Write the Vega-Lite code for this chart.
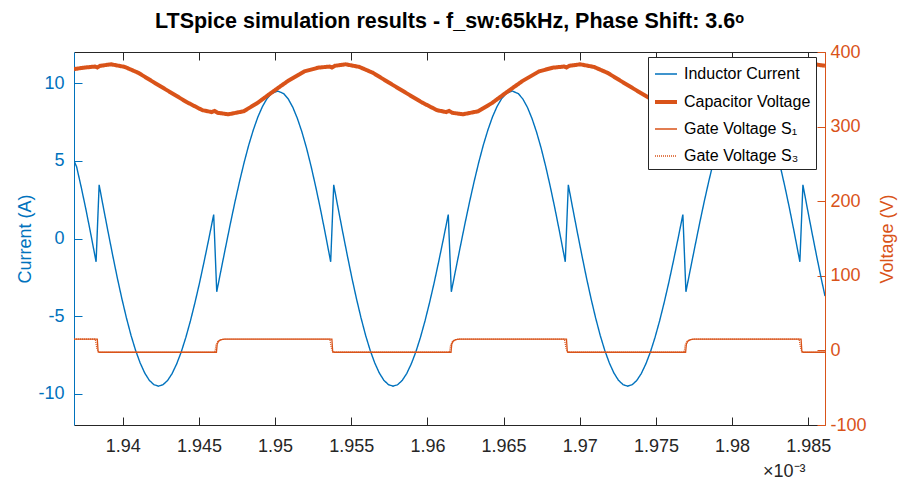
{
  "$schema": "https://vega.github.io/schema/vega-lite/v6.json",
  "width": 751,
  "height": 373,
  "autosize": {"type": "none"},
  "padding": {"left": 74, "top": 52, "right": 75, "bottom": 62},
  "background": "white",
  "config": {"view": {"stroke": null}, "font": "Liberation Sans"},
  "title": {"text": "LTSpice simulation results - f_sw:65kHz, Phase Shift: 3.6ᵒ", "font": "Liberation Sans", "fontSize": 21.5, "fontWeight": "bold", "color": "#000000", "anchor": "middle", "offset": 11},
  "datasets": {
    "current": [
      {"t":1.93680,"v":5.0,"s":"Inductor Current"},{"t":1.93697,"v":4.62,"s":"Inductor Current"},{"t":1.93727,"v":3.32,"s":"Inductor Current"},{"t":1.93757,"v":1.93,"s":"Inductor Current"},{"t":1.93787,"v":0.45,"s":"Inductor Current"},{"t":1.93825,"v":-1.5,"s":"Inductor Current"},{"t":1.93845,"v":3.45,"s":"Inductor Current"},{"t":1.93874,"v":1.94,"s":"Inductor Current"},{"t":1.93904,"v":0.41,"s":"Inductor Current"},{"t":1.93934,"v":-1.08,"s":"Inductor Current"},{"t":1.93964,"v":-2.52,"s":"Inductor Current"},{"t":1.93994,"v":-3.86,"s":"Inductor Current"},{"t":1.94024,"v":-5.1,"s":"Inductor Current"},{"t":1.94054,"v":-6.22,"s":"Inductor Current"},{"t":1.94084,"v":-7.19,"s":"Inductor Current"},{"t":1.94114,"v":-8.0,"s":"Inductor Current"},{"t":1.94144,"v":-8.65,"s":"Inductor Current"},{"t":1.94174,"v":-9.12,"s":"Inductor Current"},{"t":1.94204,"v":-9.4,"s":"Inductor Current"},
      {"t":1.94234,"v":-9.5,"s":"Inductor Current"},{"t":1.94264,"v":-9.41,"s":"Inductor Current"},{"t":1.94294,"v":-9.14,"s":"Inductor Current"},{"t":1.94324,"v":-8.69,"s":"Inductor Current"},{"t":1.94354,"v":-8.07,"s":"Inductor Current"},{"t":1.94384,"v":-7.3,"s":"Inductor Current"},{"t":1.94414,"v":-6.37,"s":"Inductor Current"},{"t":1.94444,"v":-5.31,"s":"Inductor Current"},{"t":1.94474,"v":-4.13,"s":"Inductor Current"},{"t":1.94504,"v":-2.86,"s":"Inductor Current"},{"t":1.94534,"v":-1.49,"s":"Inductor Current"},{"t":1.94564,"v":-0.07,"s":"Inductor Current"},{"t":1.94597,"v":1.54,"s":"Inductor Current"},{"t":1.94617,"v":-3.43,"s":"Inductor Current"},{"t":1.94647,"v":-1.94,"s":"Inductor Current"},{"t":1.94677,"v":-0.47,"s":"Inductor Current"},{"t":1.94707,"v":0.98,"s":"Inductor Current"},{"t":1.94737,"v":2.37,"s":"Inductor Current"},{"t":1.94767,"v":3.68,"s":"Inductor Current"},{"t":1.94797,"v":4.9,"s":"Inductor Current"},{"t":1.94827,"v":6.01,"s":"Inductor Current"},{"t":1.94857,"v":6.98,"s":"Inductor Current"},{"t":1.94887,"v":7.82,"s":"Inductor Current"},{"t":1.94917,"v":8.49,"s":"Inductor Current"},{"t":1.94947,"v":9.0,"s":"Inductor Current"},{"t":1.94977,"v":9.33,"s":"Inductor Current"},{"t":1.95017,"v":9.49,"s":"Inductor Current"},{"t":1.95057,"v":9.32,"s":"Inductor Current"},{"t":1.95087,"v":8.97,"s":"Inductor Current"},{"t":1.95117,"v":8.43,"s":"Inductor Current"},{"t":1.95147,"v":7.71,"s":"Inductor Current"},{"t":1.95177,"v":6.83,"s":"Inductor Current"},{"t":1.95207,"v":5.8,"s":"Inductor Current"},{"t":1.95237,"v":4.62,"s":"Inductor Current"},{"t":1.95267,"v":3.32,"s":"Inductor Current"},{"t":1.95297,"v":1.93,"s":"Inductor Current"},{"t":1.95327,"v":0.45,"s":"Inductor Current"},{"t":1.95365,"v":-1.5,"s":"Inductor Current"},{"t":1.95385,"v":3.45,"s":"Inductor Current"},{"t":1.95414,"v":1.94,"s":"Inductor Current"},{"t":1.95444,"v":0.41,"s":"Inductor Current"},{"t":1.95474,"v":-1.08,"s":"Inductor Current"},{"t":1.95504,"v":-2.52,"s":"Inductor Current"},{"t":1.95534,"v":-3.86,"s":"Inductor Current"},{"t":1.95564,"v":-5.1,"s":"Inductor Current"},{"t":1.95594,"v":-6.22,"s":"Inductor Current"},{"t":1.95624,"v":-7.19,"s":"Inductor Current"},{"t":1.95654,"v":-8.0,"s":"Inductor Current"},{"t":1.95684,"v":-8.65,"s":"Inductor Current"},{"t":1.95714,"v":-9.12,"s":"Inductor Current"},{"t":1.95744,"v":-9.4,"s":"Inductor Current"},
      {"t":1.95774,"v":-9.5,"s":"Inductor Current"},{"t":1.95804,"v":-9.41,"s":"Inductor Current"},{"t":1.95834,"v":-9.14,"s":"Inductor Current"},{"t":1.95864,"v":-8.69,"s":"Inductor Current"},{"t":1.95894,"v":-8.07,"s":"Inductor Current"},{"t":1.95924,"v":-7.3,"s":"Inductor Current"},{"t":1.95954,"v":-6.37,"s":"Inductor Current"},{"t":1.95984,"v":-5.31,"s":"Inductor Current"},{"t":1.96014,"v":-4.13,"s":"Inductor Current"},{"t":1.96044,"v":-2.86,"s":"Inductor Current"},{"t":1.96074,"v":-1.49,"s":"Inductor Current"},{"t":1.96104,"v":-0.07,"s":"Inductor Current"},{"t":1.96137,"v":1.54,"s":"Inductor Current"},{"t":1.96157,"v":-3.43,"s":"Inductor Current"},{"t":1.96187,"v":-1.94,"s":"Inductor Current"},{"t":1.96217,"v":-0.47,"s":"Inductor Current"},{"t":1.96247,"v":0.98,"s":"Inductor Current"},{"t":1.96277,"v":2.37,"s":"Inductor Current"},{"t":1.96307,"v":3.68,"s":"Inductor Current"},{"t":1.96337,"v":4.9,"s":"Inductor Current"},{"t":1.96367,"v":6.01,"s":"Inductor Current"},{"t":1.96397,"v":6.98,"s":"Inductor Current"},{"t":1.96427,"v":7.82,"s":"Inductor Current"},{"t":1.96457,"v":8.49,"s":"Inductor Current"},{"t":1.96487,"v":9.0,"s":"Inductor Current"},{"t":1.96517,"v":9.33,"s":"Inductor Current"},{"t":1.96557,"v":9.49,"s":"Inductor Current"},{"t":1.96597,"v":9.32,"s":"Inductor Current"},{"t":1.96627,"v":8.97,"s":"Inductor Current"},{"t":1.96657,"v":8.43,"s":"Inductor Current"},{"t":1.96687,"v":7.71,"s":"Inductor Current"},{"t":1.96717,"v":6.83,"s":"Inductor Current"},{"t":1.96747,"v":5.8,"s":"Inductor Current"},{"t":1.96777,"v":4.62,"s":"Inductor Current"},{"t":1.96807,"v":3.32,"s":"Inductor Current"},{"t":1.96837,"v":1.93,"s":"Inductor Current"},{"t":1.96867,"v":0.45,"s":"Inductor Current"},{"t":1.96905,"v":-1.5,"s":"Inductor Current"},{"t":1.96925,"v":3.45,"s":"Inductor Current"},{"t":1.96954,"v":1.94,"s":"Inductor Current"},{"t":1.96984,"v":0.41,"s":"Inductor Current"},{"t":1.97014,"v":-1.08,"s":"Inductor Current"},{"t":1.97044,"v":-2.52,"s":"Inductor Current"},{"t":1.97074,"v":-3.86,"s":"Inductor Current"},{"t":1.97104,"v":-5.1,"s":"Inductor Current"},{"t":1.97134,"v":-6.22,"s":"Inductor Current"},{"t":1.97164,"v":-7.19,"s":"Inductor Current"},{"t":1.97194,"v":-8.0,"s":"Inductor Current"},{"t":1.97224,"v":-8.65,"s":"Inductor Current"},{"t":1.97254,"v":-9.12,"s":"Inductor Current"},{"t":1.97284,"v":-9.4,"s":"Inductor Current"},
      {"t":1.97314,"v":-9.5,"s":"Inductor Current"},{"t":1.97344,"v":-9.41,"s":"Inductor Current"},{"t":1.97374,"v":-9.14,"s":"Inductor Current"},{"t":1.97404,"v":-8.69,"s":"Inductor Current"},{"t":1.97434,"v":-8.07,"s":"Inductor Current"},{"t":1.97464,"v":-7.3,"s":"Inductor Current"},{"t":1.97494,"v":-6.37,"s":"Inductor Current"},{"t":1.97524,"v":-5.31,"s":"Inductor Current"},{"t":1.97554,"v":-4.13,"s":"Inductor Current"},{"t":1.97584,"v":-2.86,"s":"Inductor Current"},{"t":1.97614,"v":-1.49,"s":"Inductor Current"},{"t":1.97644,"v":-0.07,"s":"Inductor Current"},{"t":1.97677,"v":1.54,"s":"Inductor Current"},{"t":1.97697,"v":-3.43,"s":"Inductor Current"},{"t":1.97727,"v":-1.94,"s":"Inductor Current"},{"t":1.97757,"v":-0.47,"s":"Inductor Current"},{"t":1.97787,"v":0.98,"s":"Inductor Current"},{"t":1.97817,"v":2.37,"s":"Inductor Current"},{"t":1.97847,"v":3.68,"s":"Inductor Current"},{"t":1.97877,"v":4.9,"s":"Inductor Current"},{"t":1.97907,"v":6.01,"s":"Inductor Current"},{"t":1.97937,"v":6.98,"s":"Inductor Current"},{"t":1.97967,"v":7.82,"s":"Inductor Current"},{"t":1.97997,"v":8.49,"s":"Inductor Current"},{"t":1.98027,"v":9.0,"s":"Inductor Current"},{"t":1.98057,"v":9.33,"s":"Inductor Current"},{"t":1.98097,"v":9.49,"s":"Inductor Current"},{"t":1.98137,"v":9.32,"s":"Inductor Current"},{"t":1.98167,"v":8.97,"s":"Inductor Current"},{"t":1.98197,"v":8.43,"s":"Inductor Current"},{"t":1.98227,"v":7.71,"s":"Inductor Current"},{"t":1.98257,"v":6.83,"s":"Inductor Current"},{"t":1.98287,"v":5.8,"s":"Inductor Current"},{"t":1.98317,"v":4.62,"s":"Inductor Current"},{"t":1.98347,"v":3.32,"s":"Inductor Current"},{"t":1.98377,"v":1.93,"s":"Inductor Current"},{"t":1.98407,"v":0.45,"s":"Inductor Current"},{"t":1.98445,"v":-1.5,"s":"Inductor Current"},{"t":1.98465,"v":3.45,"s":"Inductor Current"},{"t":1.98494,"v":1.94,"s":"Inductor Current"},{"t":1.98524,"v":0.41,"s":"Inductor Current"},{"t":1.98554,"v":-1.08,"s":"Inductor Current"},{"t":1.98584,"v":-2.52,"s":"Inductor Current"},{"t":1.9861,"v":-3.7,"s":"Inductor Current"}
    ],
    "cap": [
      {"t":1.9368,"v":377,"s":"Capacitor Voltage"},{"t":1.93743,"v":379,"s":"Capacitor Voltage"},{"t":1.93818,"v":380.5,"s":"Capacitor Voltage"},{"t":1.93833,"v":379.3,"s":"Capacitor Voltage"},{"t":1.93853,"v":381.5,"s":"Capacitor Voltage"},
      {"t":1.93923,"v":383.5,"s":"Capacitor Voltage"},{"t":1.94013,"v":380,"s":"Capacitor Voltage"},{"t":1.94103,"v":372,"s":"Capacitor Voltage"},{"t":1.94203,"v":359.5,"s":"Capacitor Voltage"},{"t":1.94313,"v":346,"s":"Capacitor Voltage"},{"t":1.94423,"v":332.5,"s":"Capacitor Voltage"},{"t":1.94523,"v":322,"s":"Capacitor Voltage"},{"t":1.94583,"v":319.5,"s":"Capacitor Voltage"},{"t":1.94603,"v":321,"s":"Capacitor Voltage"},{"t":1.94623,"v":318.5,"s":"Capacitor Voltage"},{"t":1.94693,"v":316.5,"s":"Capacitor Voltage"},{"t":1.94793,"v":320.5,"s":"Capacitor Voltage"},{"t":1.94883,"v":331.5,"s":"Capacitor Voltage"},{"t":1.94973,"v":345,"s":"Capacitor Voltage"},{"t":1.95083,"v":361,"s":"Capacitor Voltage"},{"t":1.95193,"v":374,"s":"Capacitor Voltage"},{"t":1.95283,"v":379,"s":"Capacitor Voltage"},{"t":1.95358,"v":380.5,"s":"Capacitor Voltage"},{"t":1.95373,"v":379.3,"s":"Capacitor Voltage"},{"t":1.95393,"v":381.5,"s":"Capacitor Voltage"},
      {"t":1.95463,"v":383.5,"s":"Capacitor Voltage"},{"t":1.95553,"v":380,"s":"Capacitor Voltage"},{"t":1.95643,"v":372,"s":"Capacitor Voltage"},{"t":1.95743,"v":359.5,"s":"Capacitor Voltage"},{"t":1.95853,"v":346,"s":"Capacitor Voltage"},{"t":1.95963,"v":332.5,"s":"Capacitor Voltage"},{"t":1.96063,"v":322,"s":"Capacitor Voltage"},{"t":1.96123,"v":319.5,"s":"Capacitor Voltage"},{"t":1.96143,"v":321,"s":"Capacitor Voltage"},{"t":1.96163,"v":318.5,"s":"Capacitor Voltage"},{"t":1.96233,"v":316.5,"s":"Capacitor Voltage"},{"t":1.96333,"v":320.5,"s":"Capacitor Voltage"},{"t":1.96423,"v":331.5,"s":"Capacitor Voltage"},{"t":1.96513,"v":345,"s":"Capacitor Voltage"},{"t":1.96623,"v":361,"s":"Capacitor Voltage"},{"t":1.96733,"v":374,"s":"Capacitor Voltage"},{"t":1.96823,"v":379,"s":"Capacitor Voltage"},{"t":1.96898,"v":380.5,"s":"Capacitor Voltage"},{"t":1.96913,"v":379.3,"s":"Capacitor Voltage"},{"t":1.96933,"v":381.5,"s":"Capacitor Voltage"},
      {"t":1.97003,"v":383.5,"s":"Capacitor Voltage"},{"t":1.97093,"v":380,"s":"Capacitor Voltage"},{"t":1.97183,"v":372,"s":"Capacitor Voltage"},{"t":1.97283,"v":359.5,"s":"Capacitor Voltage"},{"t":1.97393,"v":346,"s":"Capacitor Voltage"},{"t":1.97503,"v":332.5,"s":"Capacitor Voltage"},{"t":1.97603,"v":322,"s":"Capacitor Voltage"},{"t":1.97663,"v":319.5,"s":"Capacitor Voltage"},{"t":1.97683,"v":321,"s":"Capacitor Voltage"},{"t":1.97703,"v":318.5,"s":"Capacitor Voltage"},{"t":1.97773,"v":316.5,"s":"Capacitor Voltage"},{"t":1.97873,"v":320.5,"s":"Capacitor Voltage"},{"t":1.97963,"v":331.5,"s":"Capacitor Voltage"},{"t":1.98053,"v":345,"s":"Capacitor Voltage"},{"t":1.98163,"v":361,"s":"Capacitor Voltage"},{"t":1.98273,"v":374,"s":"Capacitor Voltage"},{"t":1.98363,"v":379,"s":"Capacitor Voltage"},{"t":1.98438,"v":380.5,"s":"Capacitor Voltage"},{"t":1.98453,"v":379.3,"s":"Capacitor Voltage"},{"t":1.98473,"v":381.5,"s":"Capacitor Voltage"},
      {"t":1.98543,"v":383.5,"s":"Capacitor Voltage"},{"t":1.9861,"v":381.5,"s":"Capacitor Voltage"}
    ],
    "gate": [
      {"t":1.9368,"v":15,"s":"Gate Voltage S₃"},{"t":1.9382,"v":15,"s":"Gate Voltage S₃"},{"t":1.9383,"v":3,"s":"Gate Voltage S₃"},{"t":1.9384,"v":-2.5,"s":"Gate Voltage S₃"},
      {"t":1.94605,"v":-2.5,"s":"Gate Voltage S₃"},{"t":1.94612,"v":7,"s":"Gate Voltage S₃"},{"t":1.94624,"v":12,"s":"Gate Voltage S₃"},{"t":1.9464,"v":14.2,"s":"Gate Voltage S₃"},{"t":1.94662,"v":15,"s":"Gate Voltage S₃"},
      {"t":1.9536,"v":15,"s":"Gate Voltage S₃"},{"t":1.9537,"v":3,"s":"Gate Voltage S₃"},{"t":1.9538,"v":-2.5,"s":"Gate Voltage S₃"},
      {"t":1.96145,"v":-2.5,"s":"Gate Voltage S₃"},{"t":1.96152,"v":7,"s":"Gate Voltage S₃"},{"t":1.96164,"v":12,"s":"Gate Voltage S₃"},{"t":1.9618,"v":14.2,"s":"Gate Voltage S₃"},{"t":1.96202,"v":15,"s":"Gate Voltage S₃"},
      {"t":1.969,"v":15,"s":"Gate Voltage S₃"},{"t":1.9691,"v":3,"s":"Gate Voltage S₃"},{"t":1.9692,"v":-2.5,"s":"Gate Voltage S₃"},
      {"t":1.97685,"v":-2.5,"s":"Gate Voltage S₃"},{"t":1.97692,"v":7,"s":"Gate Voltage S₃"},{"t":1.97704,"v":12,"s":"Gate Voltage S₃"},{"t":1.9772,"v":14.2,"s":"Gate Voltage S₃"},{"t":1.97742,"v":15,"s":"Gate Voltage S₃"},
      {"t":1.9844,"v":15,"s":"Gate Voltage S₃"},{"t":1.9845,"v":3,"s":"Gate Voltage S₃"},{"t":1.9846,"v":-2.5,"s":"Gate Voltage S₃"},{"t":1.9861,"v":-2.5,"s":"Gate Voltage S₃"},
      {"t":1.9368,"v":15,"s":"Gate Voltage S₁"},{"t":1.93833,"v":15,"s":"Gate Voltage S₁"},{"t":1.93838,"v":-1,"s":"Gate Voltage S₁"},{"t":1.93846,"v":-2.5,"s":"Gate Voltage S₁"},
      {"t":1.94615,"v":-2.5,"s":"Gate Voltage S₁"},{"t":1.9462,"v":8.5,"s":"Gate Voltage S₁"},{"t":1.9463,"v":12.5,"s":"Gate Voltage S₁"},{"t":1.94645,"v":14.3,"s":"Gate Voltage S₁"},{"t":1.94667,"v":15,"s":"Gate Voltage S₁"},
      {"t":1.95373,"v":15,"s":"Gate Voltage S₁"},{"t":1.95378,"v":-1,"s":"Gate Voltage S₁"},{"t":1.95386,"v":-2.5,"s":"Gate Voltage S₁"},
      {"t":1.96155,"v":-2.5,"s":"Gate Voltage S₁"},{"t":1.9616,"v":8.5,"s":"Gate Voltage S₁"},{"t":1.9617,"v":12.5,"s":"Gate Voltage S₁"},{"t":1.96185,"v":14.3,"s":"Gate Voltage S₁"},{"t":1.96207,"v":15,"s":"Gate Voltage S₁"},
      {"t":1.96913,"v":15,"s":"Gate Voltage S₁"},{"t":1.96918,"v":-1,"s":"Gate Voltage S₁"},{"t":1.96926,"v":-2.5,"s":"Gate Voltage S₁"},
      {"t":1.97695,"v":-2.5,"s":"Gate Voltage S₁"},{"t":1.977,"v":8.5,"s":"Gate Voltage S₁"},{"t":1.9771,"v":12.5,"s":"Gate Voltage S₁"},{"t":1.97725,"v":14.3,"s":"Gate Voltage S₁"},{"t":1.97747,"v":15,"s":"Gate Voltage S₁"},
      {"t":1.98453,"v":15,"s":"Gate Voltage S₁"},{"t":1.98458,"v":-1,"s":"Gate Voltage S₁"},{"t":1.98466,"v":-2.5,"s":"Gate Voltage S₁"},{"t":1.9861,"v":-2.5,"s":"Gate Voltage S₁"}
    ]
  },
  "layer": [
    {
      "data": {"name": "current"},
      "mark": {"type": "line", "clip": true},
      "encoding": {
        "x": {"field": "t", "type": "quantitative", "scale": {"domain": [1.9368, 1.9861], "nice": false, "zero": false},
          "axis": {"orient": "bottom", "values": [1.94,1.945,1.95,1.955,1.96,1.965,1.97,1.975,1.98,1.985], "format": "~g", "grid": false,
            "tickSize": -8, "tickColor": "#262626", "domainColor": "#262626", "labelColor": "#262626", "labelFont": "Liberation Sans", "labelFontSize": 18, "labelPadding": 20,
            "title": "×10⁻³", "titleX": 731, "titleAlign": "right", "titleFont": "Liberation Sans", "titleFontSize": 18, "titleFontWeight": "normal", "titleColor": "#262626", "titlePadding": 7}},
        "y": {"field": "v", "type": "quantitative", "scale": {"domain": [-12, 12], "nice": false, "zero": false},
          "axis": {"orient": "left", "values": [-10,-5,0,5,10], "grid": false, "labelExpr": "replace(datum.label, '−', '-')",
            "tickSize": -8, "tickColor": "#0072BD", "domainColor": "#0072BD", "labelColor": "#0072BD", "labelFont": "Liberation Sans", "labelFontSize": 18, "labelPadding": 18,
            "title": "Current (A)", "titleFont": "Liberation Sans", "titleFontSize": 18, "titleFontWeight": "normal", "titleColor": "#0072BD", "titlePadding": 3}},
        "color": {"field": "s", "type": "nominal",
          "scale": {"domain": ["Inductor Current", "Capacitor Voltage", "Gate Voltage S₁", "Gate Voltage S₃"], "range": ["#0072BD", "#D95319", "#D95319", "#D95319"]},
          "legend": {"title": null, "orient": "none", "legendX": 574, "legendY": 5, "fillColor": "white", "strokeColor": "#262626", "padding": 5,
            "labelFont": "Liberation Sans", "labelFontSize": 16, "labelColor": "#000000", "symbolType": "stroke", "symbolSize": 484, "rowPadding": 7, "labelOffset": 5}},
        "strokeWidth": {"field": "s", "type": "nominal",
          "scale": {"type": "ordinal", "domain": ["Inductor Current", "Capacitor Voltage", "Gate Voltage S₁", "Gate Voltage S₃"], "range": [1.4, 4, 1.3, 1.3]},
          "legend": {"title": null, "orient": "none", "legendX": 574, "legendY": 5}},
        "strokeDash": {"field": "s", "type": "nominal",
          "scale": {"domain": ["Inductor Current", "Capacitor Voltage", "Gate Voltage S₁", "Gate Voltage S₃"], "range": [[1,0],[1,0],[1,0],[1,1]]},
          "legend": {"title": null, "orient": "none", "legendX": 574, "legendY": 5}}
      }
    },
    {
      "encoding": {
        "x": {"field": "t", "type": "quantitative", "scale": {"domain": [1.9368, 1.9861], "nice": false, "zero": false},
          "axis": {"orient": "top", "values": [1.94,1.945,1.95,1.955,1.96,1.965,1.97,1.975,1.98,1.985], "labels": false, "grid": false, "title": null,
            "tickSize": -8, "tickColor": "#262626", "domainColor": "#262626"}},
        "y": {"field": "v", "type": "quantitative", "scale": {"domain": [-100, 400], "nice": false, "zero": false},
          "axis": {"orient": "right", "values": [-100,0,100,200,300,400], "grid": false, "labelExpr": "replace(datum.label, '−', '-')",
            "tickSize": -8, "tickColor": "#D95319", "domainColor": "#D95319", "labelColor": "#D95319", "labelFont": "Liberation Sans", "labelFontSize": 18, "labelPadding": 13,
            "title": "Voltage (V)", "titleAngle": 270, "titleFont": "Liberation Sans", "titleFontSize": 18, "titleFontWeight": "normal", "titleColor": "#D95319", "titlePadding": 30}},
        "color": {"field": "s", "type": "nominal",
          "scale": {"domain": ["Inductor Current", "Capacitor Voltage", "Gate Voltage S₁", "Gate Voltage S₃"], "range": ["#0072BD", "#D95319", "#D95319", "#D95319"]}},
        "strokeWidth": {"field": "s", "type": "nominal",
          "scale": {"type": "ordinal", "domain": ["Inductor Current", "Capacitor Voltage", "Gate Voltage S₁", "Gate Voltage S₃"], "range": [1.4, 4, 1.3, 1.3]}},
        "strokeDash": {"field": "s", "type": "nominal",
          "scale": {"domain": ["Inductor Current", "Capacitor Voltage", "Gate Voltage S₁", "Gate Voltage S₃"], "range": [[1,0],[1,0],[1,0],[1,1]]}}
      },
      "layer": [
        {"data": {"name": "cap"}, "mark": {"type": "line", "clip": true}},
        {"data": {"name": "gate"}, "mark": {"type": "line", "clip": true}}
      ]
    }
  ],
  "resolve": {"scale": {"y": "independent"}, "axis": {"x": "independent", "y": "independent"}}
}
